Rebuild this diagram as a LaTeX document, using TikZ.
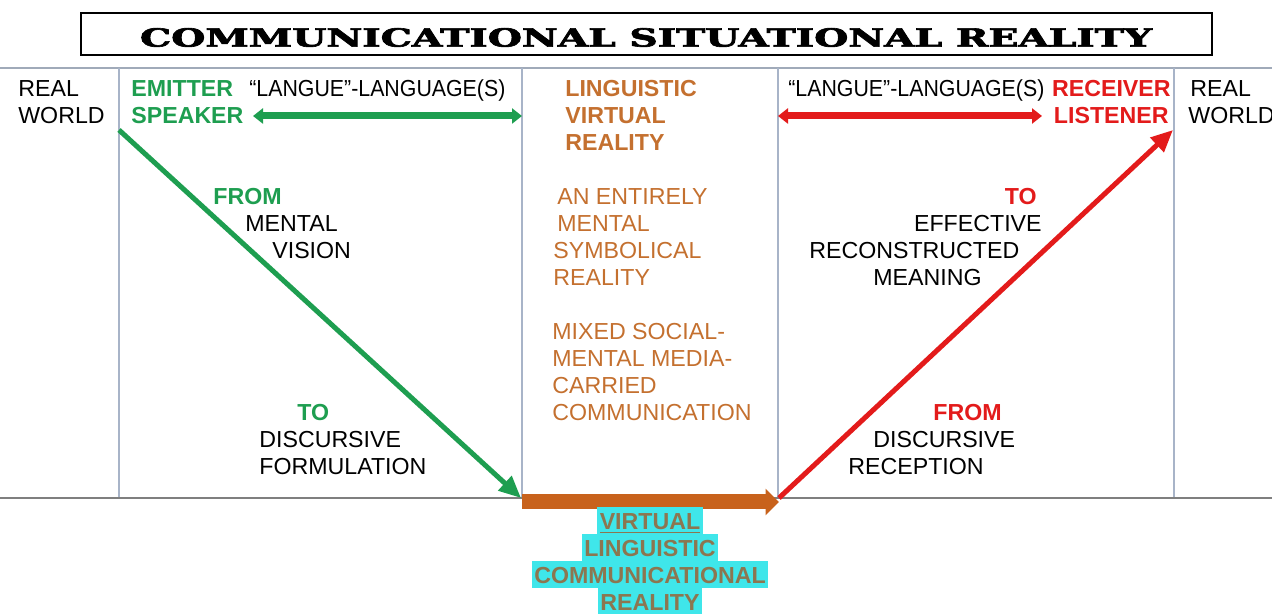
\documentclass[tikz,border=0pt]{standalone}
\usepackage{fontspec}
\setmainfont{Liberation Sans}
\newfontfamily\titlefont[FakeBold=2.5]{DejaVu Serif}
\usepackage{graphicx}
\usetikzlibrary{arrows.meta}

\definecolor{emgreen}{HTML}{1E9E50}
\definecolor{rcvred}{HTML}{E31B1B}
\definecolor{lvorange}{HTML}{C4702F}
\definecolor{barorange}{HTML}{C8621C}
\definecolor{gridblue}{HTML}{A8B4C8}
\definecolor{rulegray}{HTML}{7F7F7F}
\definecolor{hlcyan}{HTML}{3FE6EA}
\definecolor{vlctext}{HTML}{8C7650}

\begin{document}
\begin{tikzpicture}[x=0.02cm, y=-0.02cm,
  every node/.style={inner sep=0pt, font=\fontsize{13.2}{15.3}\selectfont},
  lbl/.style={anchor=base west},
  rlbl/.style={anchor=base east},
  bold/.style={font=\fontsize{13.2}{15.3}\selectfont\bfseries},
  hl/.style={anchor=base, fill=hlcyan, text=vlctext, inner xsep=1.5pt,
    text height=13pt, text depth=2.3pt,
    font=\fontsize{13.2}{15.3}\selectfont\bfseries},
  grid/.style={gridblue, line width=0.6pt},
  dbl/.style={line width=0.14cm, {Triangle[length=0.2cm,width=0.3cm]}-{Triangle[length=0.2cm,width=0.3cm]}},
  diag/.style={line width=0.1cm, -{Triangle[length=0.44cm,width=0.38cm]}}
]
\useasboundingbox (0,0) rectangle (1272,614);

% title
\node (titlebox) [draw=black, line width=0.8pt, minimum width=22.62cm, minimum height=0.84cm]
  at (646.5,34) {};
\node (title) at (646,37.5) {\resizebox{20.24cm}{0.37cm}{\titlefont\bfseries COMMUNICATIONAL SITUATIONAL REALITY}};

% frame of the four columns
\coordinate (tl) at (0,68);   \coordinate (tr) at (1272,68);
\coordinate (bl) at (0,498);  \coordinate (br) at (1272,498);
\draw[gridblue!80!gray, line width=1pt] (tl) -- (tr);
\foreach \xx/\nm in {119/a,522/b,778/c,1174/d} {
  \coordinate (\nm top) at (\xx,68);
  \coordinate (\nm bot) at (\xx,498);
  \draw[grid] (\nm top) -- (\nm bot);
}

% real world labels
\node (lreal) [lbl] at (18,97) {REAL};
\node (lworld) [lbl] at (18,124) {WORLD};
\node (rreal) [lbl] at (1190,97) {REAL};
\node (rworld) [lbl] at (1188,124) {WORLD};

% emitter side
\node (emitter) [lbl, bold, text=emgreen] at (131,97) {EMITTER};
\node (speaker) [lbl, bold, text=emgreen] at (131,124) {SPEAKER};
\node (langl) [lbl] at (249,97) {\scalebox{0.92}[1]{“LANGUE”-LANGUAGE(S)}};
\coordinate (garrL) at (253,116);
\coordinate (garrR) at (522,116);
\draw[dbl, emgreen] (garrL) -- (garrR);

\node (efrom) [lbl, bold, text=emgreen] at (213,205) {FROM};
\node (ementa) [lbl] at (245,232) {MENTAL};
\node (evision) [lbl] at (272,259) {VISION};
\node (eto) [lbl, bold, text=emgreen] at (297,421) {TO};
\node (edisc) [lbl] at (259,448) {DISCURSIVE};
\node (eform) [lbl] at (259,475) {FORMULATION};

% middle column
\node (lv1) [lbl, bold, text=lvorange] at (565,97) {LINGUISTIC};
\node (lv2) [lbl, bold, text=lvorange] at (565,124) {VIRTUAL};
\node (lv3) [lbl, bold, text=lvorange] at (565,151) {REALITY};
\node (m1) [lbl, text=lvorange] at (557,205) {AN ENTIRELY};
\node (m2) [lbl, text=lvorange] at (557,232) {MENTAL};
\node (m3) [lbl, text=lvorange] at (553,259) {SYMBOLICAL};
\node (m4) [lbl, text=lvorange] at (553,286) {REALITY};
\node (m5) [lbl, text=lvorange] at (552,340) {MIXED SOCIAL-};
\node (m6) [lbl, text=lvorange] at (552,367) {MENTAL MEDIA-};
\node (m7) [lbl, text=lvorange] at (552,394) {CARRIED};
\node (m8) [lbl, text=lvorange] at (552,421) {COMMUNICATION};

% receiver side
\node (langr) [lbl] at (788,97) {\scalebox{0.92}[1]{“LANGUE”-LANGUAGE(S)}};
\node (receiver) [rlbl, bold, text=rcvred] at (1171,97) {RECEIVER};
\node (listener) [rlbl, bold, text=rcvred] at (1169,124) {LISTENER};
\coordinate (rarrL) at (778,116);
\coordinate (rarrR) at (1042,116);
\draw[dbl, rcvred] (rarrL) -- (rarrR);

\node (rto) [rlbl, bold, text=rcvred] at (1037,205) {TO};
\node (reff) [rlbl] at (1042,232) {EFFECTIVE};
\node (rrec) [lbl] at (809,259) {RECONSTRUCTED};
\node (rmean) [lbl] at (873,286) {MEANING};
\node (rfrom) [lbl, bold, text=rcvred] at (933,421) {FROM};
\node (rdisc) [lbl] at (873,448) {DISCURSIVE};
\node (rrecep) [lbl] at (848,475) {RECEPTION};

% bottom rule
\draw[rulegray, line width=1.3pt] (bl) -- (br);

% the V of the exchange
\coordinate (gstart) at (119,130);
\coordinate (gend) at (521,498);
\coordinate (rstart) at (779,498);
\coordinate (rend) at (1173,130);
\draw[diag, emgreen] (gstart) -- (gend);
\draw[diag, rcvred] (rstart) -- (rend);

% virtual linguistic bar
\coordinate (oL) at (522,502);
\coordinate (oR) at (779,502);
\draw[barorange, line width=0.3cm, -{Triangle[length=0.27cm,width=0.52cm]}] (oL) -- (oR);

% highlighted caption
\node (v1) [hl] at (650,530) {\underline{VIRTUAL}};
\node (v2) [hl] at (650,557) {LINGUISTIC};
\node (v3) [hl] at (650,584) {COMMUNICATIONAL};
\node (v4) [hl] at (650,611) {REALITY};
\end{tikzpicture}
\end{document}
